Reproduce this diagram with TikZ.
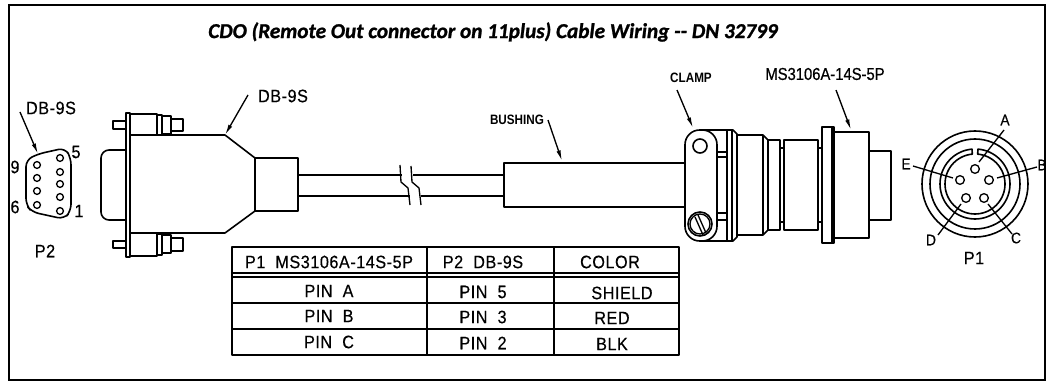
\documentclass[tikz,border=0pt]{standalone}
\usepackage{fontspec}
\setmainfont{Liberation Sans}
\newfontfamily\cadfont[FakeStretch=0.9,LetterSpace=3,FakeBold=0.4]{Liberation Sans}
\newfontfamily\calloutfont[FakeStretch=0.86]{Liberation Sans Bold}
\newfontfamily\msfont[FakeStretch=0.86,FakeBold=0.6]{Liberation Sans}
\newfontfamily\titlefont[FakeBold=1.2]{Carlito Bold Italic}
\usetikzlibrary{arrows.meta}
\tikzset{
  part/.style={draw=black,line width=1.2pt,line join=round},
  thin part/.style={draw=black,line width=1pt},
  lead/.style={draw=black,line width=1pt,-{Latex[length=8pt,width=3.2pt]}},
  plainlead/.style={draw=black,line width=1pt},
  cad/.style={font=\cadfont\fontsize{13.5}{14}\selectfont,inner sep=0pt,text=black},
  cadsmall/.style={font=\cadfont\fontsize{11.5}{12}\selectfont,inner sep=0pt,text=black},
  callout/.style={font=\calloutfont\fontsize{10.2}{12}\selectfont,inner sep=0pt},
  pin/.style={draw=black,line width=1pt}
}
\begin{document}
\begin{tikzpicture}[x=0.75pt,y=-0.75pt]
\useasboundingbox (0,0) rectangle (1046,381);
% frame
\draw[line width=1.7pt] (9,380) -- (9,5) -- (1045,5) -- (1045,380) -- cycle;
% title
\node[font=\titlefont\fontsize{15.9}{17}\selectfont,inner sep=0pt] (title) at (493,32) {CDO (Remote Out connector on 11plus) Cable Wiring -- DN 32799};

% ---- P2 face
\draw[part,rounded corners=5pt] (26,160) -- (38,154) -- (65,148) -- (71,158) -- (71,211) -- (64,219) -- (32,212) -- (26,205) -- cycle;
\foreach \yy in {158,172,184,197,211} \draw[pin] (60,\yy) circle[radius=3.4];
\foreach \yy in {165,178,191,205} \draw[pin] (37,\yy) circle[radius=3.4];
\node[cad] (p2db) at (51,108) {DB-9S};
\node[cad] (p2n9) at (15,167) {9};
\node[cad] (p2n5) at (76,152) {5};
\node[cad] (p2n6) at (15,207) {6};
\node[cad] (p2n1) at (79,211) {1};
\node[cad] (p2lab) at (45,251) {P2};
\coordinate (p2tail) at (20,112);
\coordinate (p2tip) at (38,154);
\draw[lead] (p2tail) -- (p2tip);

% ---- DB-9 backshell
\draw[part,rounded corners=6pt] (126,150) -- (101,150) -- (101,220) -- (126,220);
\draw[part] (126,113) rectangle (130,257);
\draw[part] (130,135) -- (225,135) -- (255,158) -- (255,211) -- (225,233) -- (130,233);
\draw[part] (255,158) rectangle (298,211);
% top screw
\draw[part] (130,114) rectangle (157,135);
\draw[part] (157,115) rectangle (162,135);
\draw[part] (162,116) rectangle (171,134);
\draw[part] (171,119) rectangle (183,131);
\draw[part] (113,121) rectangle (126,129);
% bottom screw
\draw[part] (130,233) rectangle (157,256);
\draw[part] (157,234) rectangle (162,255);
\draw[part] (162,235) rectangle (171,253);
\draw[part] (171,238) rectangle (183,251);
\draw[part] (113,241) rectangle (126,248);
\node[cad] (dbtop) at (283,96) {DB-9S};
\coordinate (dbtail) at (248,95);
\coordinate (dbtip) at (225,135);
\draw[lead] (dbtail) -- (dbtip);

% ---- cable
\draw[part] (298,175) -- (402,175) (413,175) -- (504,175);
\draw[part] (298,196) -- (410,196) (421,196) -- (504,196);
\draw[thin part] (400,165) -- (401,182) -- (408,188) -- (410,205);
\draw[thin part] (411,166) -- (412,182) -- (419,188) -- (421,205);

% ---- bushing
\draw[part] (685,163) -- (504,163) -- (504,207) -- (685,207);
\node[callout] (bush) at (517,120) {BUSHING};
\coordinate (bushtail) at (548,120);
\coordinate (bushtip) at (562,161);
\draw[lead] (bushtail) -- (bushtip);

% ---- MS connector
\draw[part] (700,130) -- (733,130) -- (737,134) -- (737,237) -- (733,241) -- (700,241);
\draw[part] (727,130) -- (727,241) (732,130) -- (732,241);
\draw[part] (717,152) -- (727,152) (717,157) -- (727,157) (717,213) -- (727,213) (717,220) -- (727,220);
\draw[part] (737,135) -- (763,135) -- (768,140) -- (768,230) -- (763,235) -- (737,235);
\draw[part] (763,135) -- (763,235);
\draw[part] (768,140) rectangle (780,230);
\draw[part] (780,148) rectangle (784,222);
\draw[part] (784,140) rectangle (818,230);
\draw[part] (818,148) rectangle (822,222);
\draw[part] (822,127) rectangle (834,243);
\draw[line width=1.9pt] (832,127) -- (832,243);
\draw[part] (834,132) rectangle (869,238);
\draw[part] (869,151) rectangle (891,220);
% clamp
\draw[part,fill=white,rounded corners=11pt] (685,130) rectangle (717,241);
\draw[part] (700,146) circle[radius=7];
\draw[part] (700,224) circle[radius=12];
\draw[thin part] (700,224) circle[radius=10];
\draw[thin part] (695,217) -- (703,235) (698,215) -- (706,233);
\node[callout] (clamp) at (691,78) {CLAMP};
\node[font=\msfont\fontsize{12.9}{14}\selectfont,inner sep=0pt] (ms) at (825,74) {MS3106A-14S-5P};
\coordinate (clamptail) at (677,90);
\coordinate (clamptip) at (693,128);
\draw[lead] (clamptail) -- (clamptip);
\coordinate (mstail) at (836,90);
\coordinate (mstip) at (851,130);
\draw[lead] (mstail) -- (mstip);

% ---- P1 face
\draw[part] (975,184) circle[radius=53];
\draw[part] (975,184) circle[radius=45];
\draw[part] plot[domain=95:445,samples=71] ({975+35*cos(\x)},{184-35*sin(\x)}) -- plot[domain=445:95,samples=71] ({975+30*cos(\x)},{184-30*sin(\x)}) -- cycle;
\node[pin,circle,minimum size=6.5pt,inner sep=0pt] (pA) at (975,169) {};
\node[pin,circle,minimum size=6.5pt,inner sep=0pt] (pB) at (989,180) {};
\node[pin,circle,minimum size=6.5pt,inner sep=0pt] (pC) at (984,198) {};
\node[pin,circle,minimum size=6.5pt,inner sep=0pt] (pD) at (966,198) {};
\node[pin,circle,minimum size=6.5pt,inner sep=0pt] (pE) at (960,180) {};
\node[cadsmall] (lA) at (1005,120) {A};
\node[cadsmall] (lB) at (1042,165) {B};
\node[cadsmall] (lC) at (1016,238) {C};
\node[cadsmall] (lD) at (931,240) {D};
\node[cadsmall] (lE) at (906,164) {E};
\node[cad] (p1lab) at (974,258) {P1};
\coordinate (la1) at (1004,130); \coordinate (la2) at (979,162);
\coordinate (lb1) at (1037,167); \coordinate (lb2) at (997,178);
\coordinate (lc1) at (1012,234); \coordinate (lc2) at (988,204);
\coordinate (ld1) at (938,235); \coordinate (ld2) at (961,204);
\coordinate (le1) at (913,166); \coordinate (le2) at (953,178);
\draw[plainlead] (la1) -- (la2);
\draw[plainlead] (lb1) -- (lb2);
\draw[plainlead] (lc1) -- (lc2);
\draw[plainlead] (ld1) -- (ld2);
\draw[plainlead] (le1) -- (le2);

% ---- table
\draw[part] (232,247) rectangle (679,355);
\draw[part] (232,273) -- (679,273) (232,277) -- (679,277) (232,303) -- (679,303) (232,329) -- (679,329);
\draw[part] (427,247) -- (427,355) (554,247) -- (554,355);
\node[cad] (h1) at (329,262) {P1\ \ MS3106A-14S-5P};
\node[cad] (h2) at (483,262) {P2\ \ DB-9S};
\node[cad] (h3) at (610,262) {COLOR};
\node[cad] (r1a) at (329,291) {PIN\ \ A};
\node[cad] (r1b) at (483,292) {PIN\ \ 5};
\node[cad] (r1c) at (622,293) {SHIELD};
\node[cad] (r2a) at (329,316) {PIN\ \ B};
\node[cad] (r2b) at (483,317) {PIN\ \ 3};
\node[cad] (r2c) at (612,318) {RED};
\node[cad] (r3a) at (329,342) {PIN\ \ C};
\node[cad] (r3b) at (483,343) {PIN\ \ 2};
\node[cad] (r3c) at (612,344) {BLK};
\end{tikzpicture}
\end{document}
